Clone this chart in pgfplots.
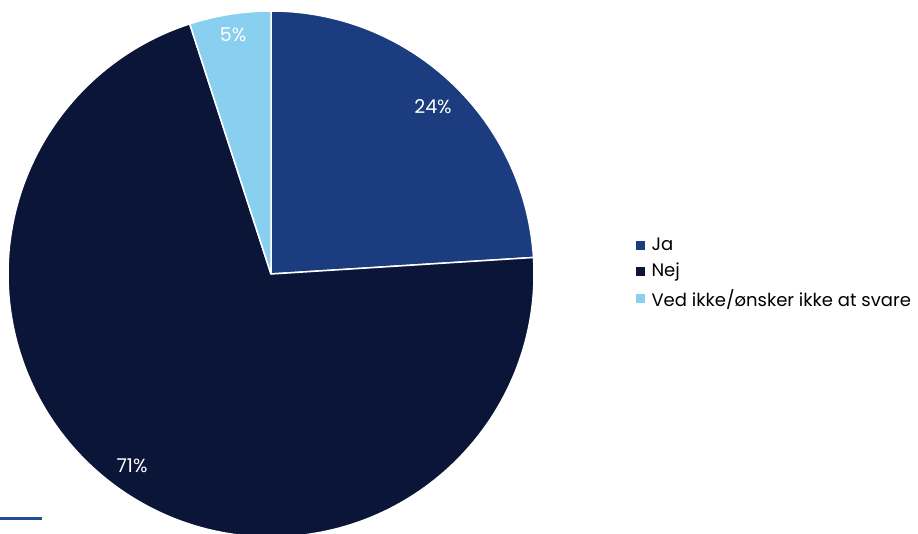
\documentclass[border=0pt]{standalone}
\usepackage{pgfplots}
\pgfplotsset{compat=1.18}
\usepackage{fontspec}
\setmainfont{Poppins}
\definecolor{ja}{HTML}{1B3D80}
\definecolor{nej}{HTML}{0B1538}
\definecolor{ved}{HTML}{89CFF0}
\definecolor{lineblue}{HTML}{1F4E9A}
\begin{document}
\begin{tikzpicture}
\begin{axis}[
  x=1bp, y=1bp,
  xmin=0, xmax=918, ymin=0, ymax=534,
  hide axis, clip=true,
  legend style={at={(0.6928,0.4888)}, anchor=west, draw=none, fill=none,
    font=\fontsize{18bp}{21bp}\selectfont, row sep=7bp, column sep=5bp,
    cells={anchor=west}, inner sep=0pt},
  legend image code/.code={\fill[#1] (0bp,-4bp) rectangle (8bp,4bp);},
]
\addplot[lineblue, line width=3bp, forget plot] coordinates {(0,15) (42,15)};
\addlegendimage{ja}
\addlegendentry{Ja}
\addlegendimage{nej}
\addlegendentry{Nej}
\addlegendimage{ved}
\addlegendentry{Ved ikke/ønsker ikke at svare}
% shares: Ja 24, Nej 71, Ved ikke 5 (percent), clockwise from 12 o'clock
\fill[ja, draw=white, line width=1.5bp, line join=round] (axis cs:271,260) -- ++(90:263bp) arc[start angle=90, end angle={90-3.6*24}, radius=263bp] -- cycle;
\fill[nej, draw=white, line width=1.5bp, line join=round] (axis cs:271,260) -- ++({90-3.6*24}:263bp) arc[start angle={90-3.6*24}, end angle={90-3.6*95}, radius=263bp] -- cycle;
\fill[ved, draw=white, line width=1.5bp, line join=round] (axis cs:271,260) -- ++({90-3.6*95}:263bp) arc[start angle={90-3.6*95}, end angle={90-3.6*100}, radius=263bp] -- cycle;
\node[white, font=\fontsize{19bp}{22bp}\selectfont] at (axis cs:433,427) {24\%};
\node[white, font=\fontsize{19bp}{22bp}\selectfont] at (axis cs:132,68) {71\%};
\node[white, font=\fontsize{19bp}{22bp}\selectfont] at (axis cs:233,499) {5\%};
\end{axis}
\pgfresetboundingbox
\path[use as bounding box] (0,0) rectangle (918bp,534bp);
\end{tikzpicture}
\end{document}
